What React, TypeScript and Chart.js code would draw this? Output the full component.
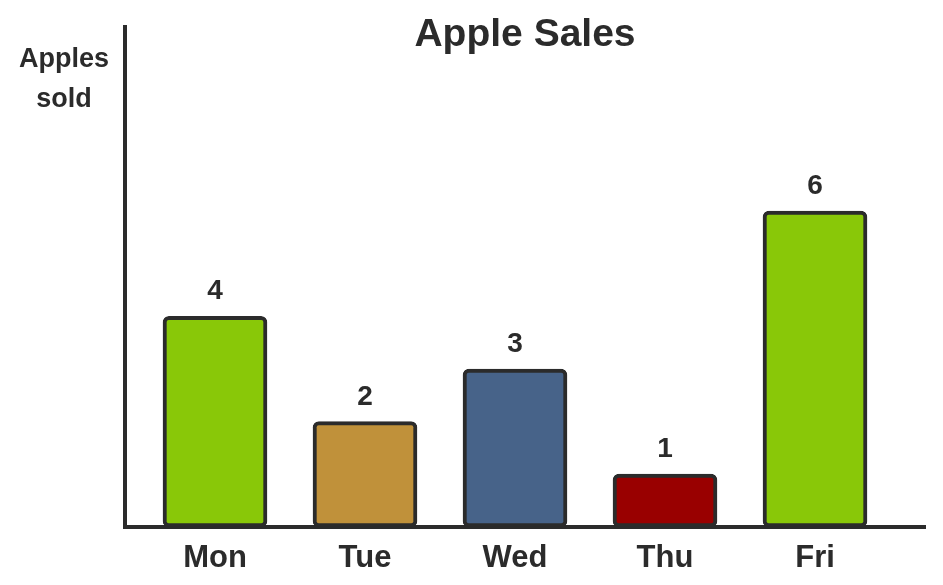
import React, { useEffect, useRef } from "react";
import { Chart, registerables } from "chart.js";

Chart.register(...registerables);

const days: string[] = ["Mon", "Tue", "Wed", "Thu", "Fri"];
const applesSold: number[] = [4, 2, 3, 1, 6];
const barColors: string[] = ["#89c808", "#c0913a", "#476389", "#990000", "#89c808"];
const chartTitle = "Apple Sales";
const yAxisLabel: string[] = ["Apples", "sold"];

const INK = "#2b2b2b";
const FONT = "'Liberation Sans', Arial, sans-serif";

const annotationPlugin = {
  id: "annotations",
  afterDraw(chart: any) {
    const { ctx, chartArea } = chart;
    ctx.save();
    ctx.fillStyle = INK;
    ctx.textAlign = "center";
    ctx.textBaseline = "alphabetic";
    // title
    ctx.font = `bold 39px ${FONT}`;
    ctx.fillText(chartTitle, (chartArea.left + chartArea.right) / 2, 46);
    // y-axis label
    ctx.font = `bold 27px ${FONT}`;
    yAxisLabel.forEach((line, i) => ctx.fillText(line, 64, 67 + i * 40));
    // value labels
    ctx.font = `bold 28px ${FONT}`;
    const meta = chart.getDatasetMeta(0);
    meta.data.forEach((bar: any, i: number) => {
      ctx.fillText(String(applesSold[i]), bar.x, bar.y - 17);
    });
    ctx.restore();
  },
};

export default function App() {
  const canvasRef = useRef<HTMLCanvasElement | null>(null);

  useEffect(() => {
    if (!canvasRef.current) return;
    const chart = new Chart(canvasRef.current, {
      type: "bar",
      data: {
        datasets: [
          {
            data: days.map((_, i) => ({ x: i, y: applesSold[i] })),
            backgroundColor: barColors,
            borderColor: INK,
            borderWidth: 4,
            borderRadius: 6,
            borderSkipped: false,
            barThickness: 104,
          },
        ],
      },
      options: {
        animation: false,
        responsive: true,
        maintainAspectRatio: false,
        layout: { padding: { left: 125, right: 18, top: 27, bottom: -5 } },
        plugins: {
          legend: { display: false },
          tooltip: { enabled: false },
          title: { display: false },
        },
        scales: {
          x: {
            type: "linear",
            offset: false,
            min: -0.6,
            max: 4.7333,
            grid: { display: false, drawTicks: false, offset: false },
            border: { display: true, width: 4, color: INK },
            afterBuildTicks: (scale: any) => {
              scale.ticks = days.map((_, i) => ({ value: i }));
            },
            ticks: {
              padding: 13,
              color: INK,
              font: { family: FONT, size: 31, weight: "bold" },
              callback: (v: any) => days[v] ?? "",
            },
          },
          y: {
            type: "linear",
            min: 0,
            max: 9.5,
            grid: { display: false, drawTicks: false },
            border: { display: true, width: 4, color: INK },
            ticks: { display: false },
          },
        },
      },
      plugins: [annotationPlugin],
    });
    return () => chart.destroy();
  }, []);

  return (
    <div style={{ position: "absolute", left: 0, top: 0, width: 943, height: 585, background: "#fff" }}>
      <canvas ref={canvasRef} />
    </div>
  );
}
